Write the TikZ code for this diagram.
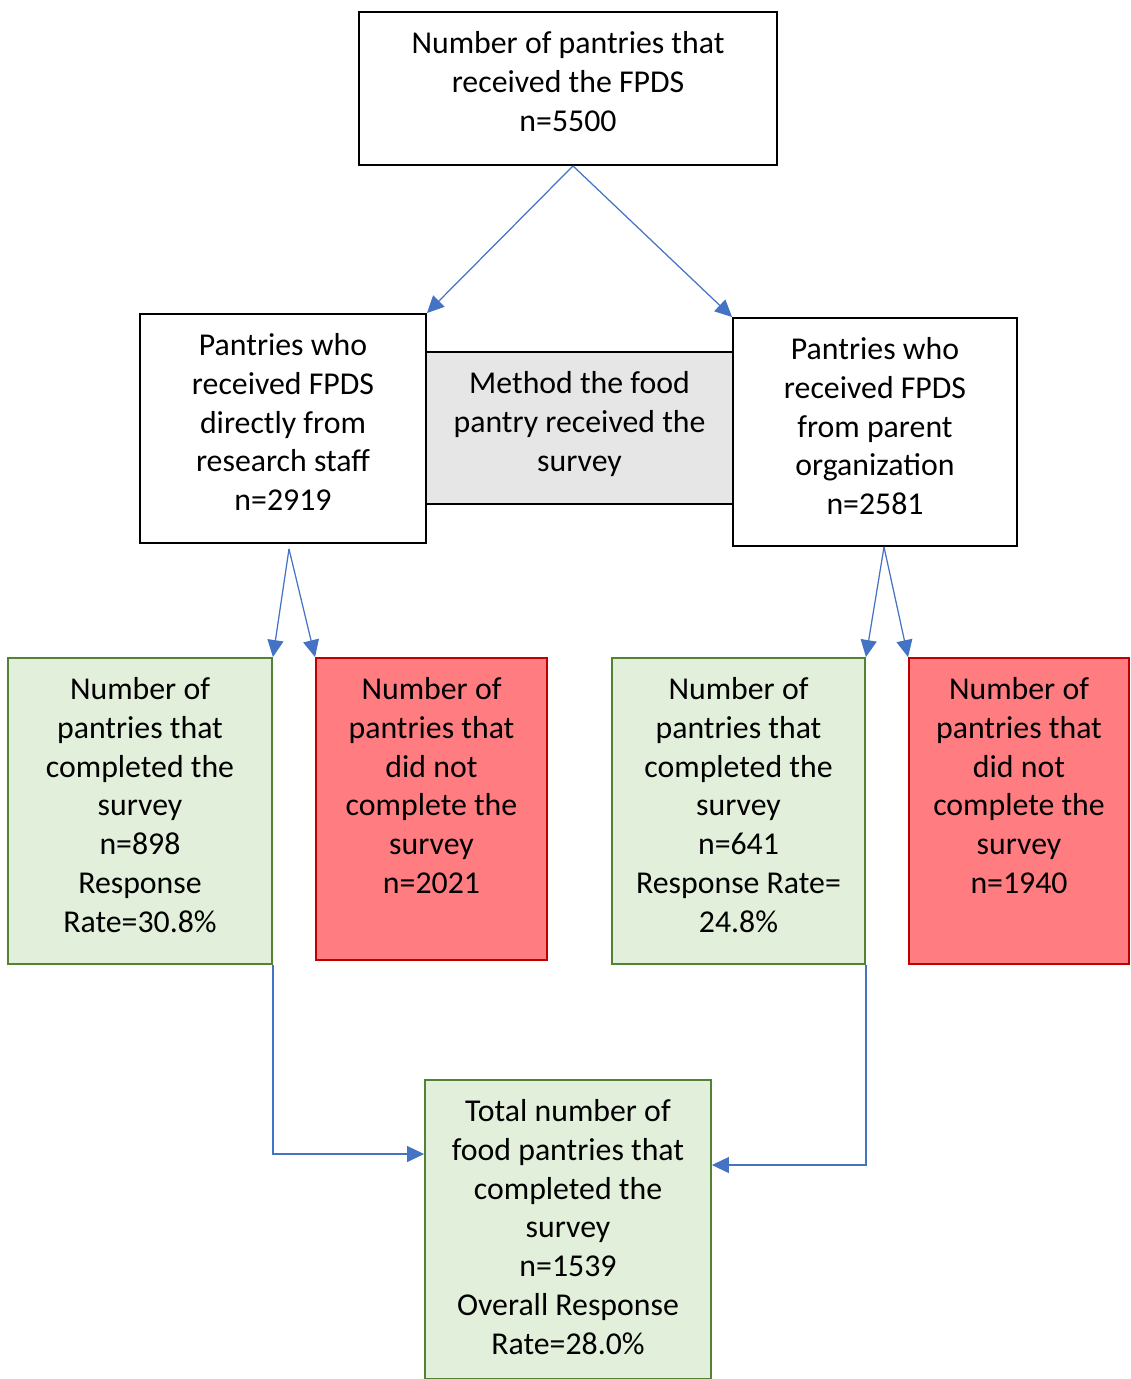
\documentclass[tikz,border=0pt]{standalone}
\usepackage{fontspec}
\setmainfont{Carlito}
\usetikzlibrary{arrows.meta,calc}

\definecolor{arrowblue}{HTML}{4472C4}
\definecolor{donegreen}{HTML}{E2EFDA}
\definecolor{doneedge}{HTML}{548235}
\definecolor{missred}{HTML}{FF7C80}
\definecolor{missedge}{HTML}{C00000}
\definecolor{methodgray}{HTML}{E7E6E6}

\begin{document}
\begin{tikzpicture}[x=0.02cm,y=-0.02cm,
    box/.style={rectangle,draw,line width=1.1pt,inner sep=0pt},
    done/.style={box,fill=donegreen,draw=doneedge},
    miss/.style={box,fill=missred,draw=missedge},
    boxtext/.style={anchor=north,yshift=-0.40cm,align=center,inner sep=0pt,
      font=\fontsize{18.1pt}{22.1pt}\selectfont},
    conn/.style={draw=arrowblue,line width=0.7pt,-{Triangle[length=0.34cm,width=0.32cm]}}]

    \useasboundingbox (0,0) rectangle (1131,1379);

    \node (top) [box,minimum width=8.36cm,minimum height=3.06cm,
      label={[boxtext]north:{Number of pantries that\\received the FPDS\\n=5500}}] at (568,88.5) {};

    \node (method) [box,fill=methodgray,minimum width=6.14cm,minimum height=3.04cm,
      label={[boxtext]north:{Method the food\\pantry received the\\survey}}] at (579.5,428) {};
    \node (left) [box,fill=white,minimum width=5.72cm,minimum height=4.58cm,
      label={[boxtext]north:{Pantries who\\received FPDS\\directly from\\research staff\\n=2919}}] at (283,428.5) {};
    \node (right) [box,fill=white,minimum width=5.68cm,minimum height=4.56cm,
      label={[boxtext]north:{Pantries who\\received FPDS\\from parent\\organization\\n=2581}}] at (875,432) {};

    \node (done1) [done,minimum width=5.28cm,minimum height=6.12cm,
      label={[boxtext]north:{Number of\\pantries that\\completed the\\survey\\n=898\\Response\\Rate=30.8\%}}] at (140,811) {};
    \node (miss1) [miss,minimum width=4.62cm,minimum height=6.04cm,
      label={[boxtext]north:{Number of\\pantries that\\did not\\complete the\\survey\\n=2021}}] at (431.5,809) {};
    \node (done2) [done,minimum width=5.06cm,minimum height=6.12cm,
      label={[boxtext]north:{Number of\\pantries that\\completed the\\survey\\n=641\\Response Rate=\\24.8\%}}] at (738.5,811) {};
    \node (miss2) [miss,minimum width=4.40cm,minimum height=6.12cm,
      label={[boxtext]north:{Number of\\pantries that\\did not\\complete the\\survey\\n=1940}}] at (1019,811) {};

    \node (total) [done,minimum width=5.72cm,minimum height=5.98cm,
      label={[boxtext]north:{Total number of\\food pantries that\\completed the\\survey\\n=1539\\Overall Response\\Rate=28.0\%}}] at (568,1229.5) {};

    % split points and entry points
    \coordinate (lsplit) at ([xshift=0.12cm,yshift=-0.1cm]left.south);
    \coordinate (rsplit) at ([xshift=0.18cm]right.south);
    \coordinate (lin) at ([yshift=1.51cm]total.west);
    \coordinate (rin) at ([yshift=1.29cm]total.east);

    \draw[conn] ([xshift=0.1cm]top.south) -- (left.north east);
    \draw[conn] ([xshift=0.1cm]top.south) -- (right.north west);

    \draw[conn] (lsplit) -- (done1.north east);
    \draw[conn] (lsplit) -- (miss1.north west);
    \draw[conn] (rsplit) -- (done2.north east);
    \draw[conn] (rsplit) -- (miss2.north west);

    \draw[conn] (done1.south east) |- (lin);
    \draw[conn] (done2.south east) |- (rin);
\end{tikzpicture}
\end{document}
